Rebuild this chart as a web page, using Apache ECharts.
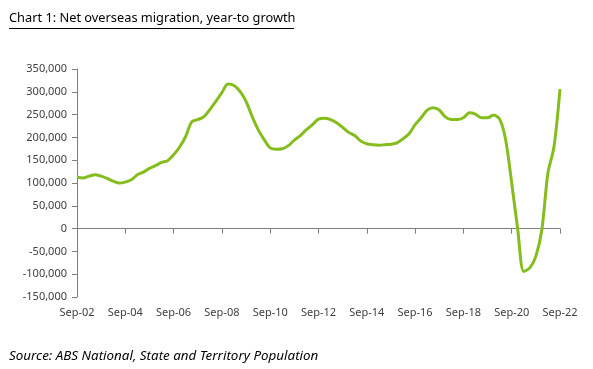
<!DOCTYPE html>
<html><head><meta charset="utf-8">
<script src="https://cdn.jsdelivr.net/npm/echarts@6/dist/echarts.min.js"></script>
<style>html,body{margin:0;padding:0;background:#fff}#c{width:593px;height:369px}</style>
</head><body><div id="c"></div>
<script>
const titleText = "Chart 1: Net overseas migration, year-to growth";
const sourceText = "Source: ABS National, State and Territory Population";
const yTicks = [-150000, 350000, 50000];
const years = ["02","03","04","05","06","07","08","09","10","11","12","13","14","15","16","17","18","19","20","21","22"];
const quarterMonths = ["Sep","Dec","Mar","Jun"];
// quarterly categories Sep-02 .. Sep-22
const categories = [];
for (let y = 0; y < years.length; y++) {
  for (let q = 0; q < 4; q++) {
    if (y === years.length - 1 && q > 0) break;
    const yr = q <= 1 ? years[y] : years[y + 1];
    categories.push(quarterMonths[q] + "-" + yr);
  }
}
const nom = [
 113000,111000,115000,118000,115000,110000,104000,100000,102000,107000,
 118000,124000,132000,138000,145000,149000,162000,179000,202000,234000,
 239000,245000,261000,279000,298000,317000,314000,301000,279000,246000,
 217000,195000,177000,174000,175000,182000,194000,204000,217000,228000,
 240000,242000,239000,232000,222000,211000,204000,192000,186000,184000,
 183000,184000,185000,188000,197000,208000,228000,243000,260000,265000,
 260000,245000,239000,239000,243000,254000,251000,243000,243000,249000,
 240000,195000,100000,-2000,-94000,-86000,-61000,-2000,122000,179000,
 306000
];
const chart = echarts.init(document.getElementById('c'));
const lab = {color:'#404040', fontFamily:'Noto Sans', fontSize:11};
chart.setOption({
  animation:false,
  grid:{left:77, right:33, top:69, bottom:72},
  graphic:[
    {type:'text', left:9, top:12, style:{text:titleText, font:'12.8px "Noto Sans"', fill:'#000'}},
    {type:'rect', left:9, top:28, shape:{width:285, height:1}, style:{fill:'#000'}},
    {type:'text', left:9, top:350, style:{text:sourceText, font:'italic 13.4px "Noto Sans"', fill:'#000'}}
  ],
  xAxis:[
    {type:'category', data:categories, boundaryGap:false, position:'bottom',
     axisLine:{show:false, onZero:false}, axisTick:{show:false},
     axisLabel:Object.assign({interval:7, margin:10}, lab), splitLine:{show:false}},
    {type:'category', data:categories, boundaryGap:false, position:'bottom',
     axisLine:{show:true, onZero:true, lineStyle:{color:'#7f7f7f', width:1}},
     axisTick:{show:true, interval:7, length:5, lineStyle:{color:'#7f7f7f'}},
     axisLabel:{show:false}, splitLine:{show:false}}
  ],
  yAxis:{type:'value', min:yTicks[0], max:yTicks[1], interval:yTicks[2],
    axisLine:{show:true, lineStyle:{color:'#7f7f7f'}},
    axisTick:{show:true, length:5, lineStyle:{color:'#7f7f7f'}},
    splitLine:{show:false},
    axisLabel:Object.assign({margin:10, formatter:v=>v.toLocaleString('en-US')}, lab)},
  series:[{type:'line', xAxisIndex:0, data:nom, smooth:0.3, showSymbol:false,
    lineStyle:{color:'#84bd1d', width:3}, itemStyle:{color:'#84bd1d'}}]
});
</script></body></html>
